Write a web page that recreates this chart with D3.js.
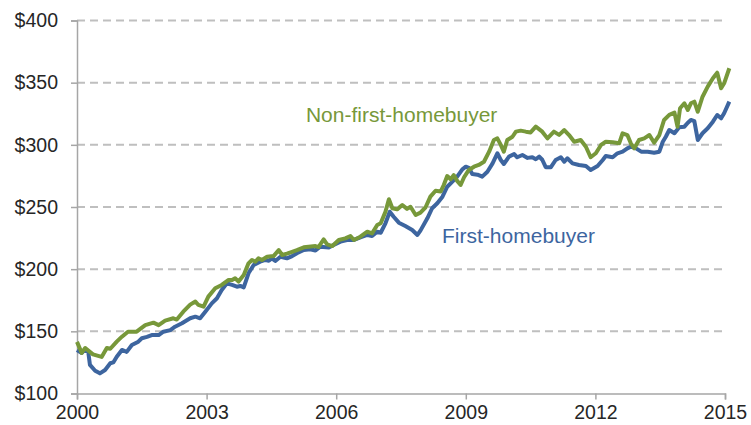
<!DOCTYPE html>
<html>
<head>
<meta charset="utf-8">
<script src="https://cdn.jsdelivr.net/npm/d3@7"></script>
<style>
  body { margin: 0; background: #fff; }
  svg { display: block; font-family: "Liberation Sans", Arial, sans-serif; }
  .tickText { font-size: 19.5px; fill: #262626; }
  .seriesLabel { font-size: 21px; }
</style>
</head>
<body>
<svg id="chart" width="751" height="425"></svg>
<script>
var svg = d3.select("#chart");
var margin = { left: 77, right: 26, top: 20.5, bottom: 31.5 };
var width = 751 - margin.left - margin.right;
var height = 425 - margin.top - margin.bottom;

// Axis ticks
var yearTicks = [2000, 2003, 2006, 2009, 2012, 2015];
var priceTicks = [100, 150, 200, 250, 300, 350, 400];

// Non-first-homebuyer: decimal year, price ($000)
var nonFirstYears = [2000.00, 2000.11, 2000.19, 2000.37, 2000.57, 2000.69, 2000.77, 2000.92, 2001.04, 2001.18,
  2001.38, 2001.58, 2001.77, 2001.89, 2002.04, 2002.23, 2002.31, 2002.46, 2002.62, 2002.74,
  2002.81, 2002.93, 2003.04, 2003.20, 2003.35, 2003.51, 2003.59, 2003.66, 2003.74, 2003.86,
  2003.97, 2004.05, 2004.13, 2004.20, 2004.28, 2004.40, 2004.55, 2004.67, 2004.75, 2004.86,
  2004.98, 2005.09, 2005.25, 2005.36, 2005.52, 2005.59, 2005.71, 2005.79, 2005.91, 2006.06,
  2006.21, 2006.33, 2006.41, 2006.56, 2006.72, 2006.83, 2006.95, 2007.03, 2007.14, 2007.22,
  2007.30, 2007.41, 2007.53, 2007.64, 2007.72, 2007.84, 2007.95, 2008.07, 2008.18, 2008.30,
  2008.42, 2008.49, 2008.57, 2008.65, 2008.72, 2008.80, 2008.88, 2008.96, 2009.07, 2009.19,
  2009.30, 2009.42, 2009.54, 2009.65, 2009.73, 2009.81, 2009.88, 2009.96, 2010.08, 2010.16,
  2010.27, 2010.39, 2010.50, 2010.62, 2010.77, 2010.89, 2011.04, 2011.16, 2011.28, 2011.39,
  2011.51, 2011.66, 2011.78, 2011.89, 2012.01, 2012.13, 2012.24, 2012.40, 2012.55, 2012.63,
  2012.74, 2012.82, 2012.90, 2013.01, 2013.13, 2013.25, 2013.36, 2013.48, 2013.59, 2013.71,
  2013.83, 2013.90, 2013.96, 2014.06, 2014.14, 2014.21, 2014.29, 2014.37, 2014.48, 2014.60,
  2014.72, 2014.82, 2014.91, 2014.98, 2015.10];
var nonFirstPrices = [141.5, 132.6, 136.6, 131.5, 129.4, 136.6, 136.0, 141.7, 145.7, 149.7,
  149.7, 155.0, 157.0, 155.0, 158.6, 160.5, 159.5, 165.8, 171.5, 174.0,
  171.2, 169.8, 177.9, 184.6, 187.3, 191.3, 191.3, 192.7, 190.0, 195.3,
  204.7, 207.4, 206.0, 208.7, 207.4, 210.0, 210.5, 215.4, 211.4, 212.5,
  214.0, 215.4, 217.6, 218.1, 218.6, 217.8, 224.0, 220.0, 218.6, 223.5,
  224.8, 226.7, 223.5, 226.1, 230.1, 228.8, 235.5, 236.9, 246.2, 256.2,
  249.0, 248.1, 251.6, 248.5, 250.2, 243.6, 245.5, 249.8, 258.3, 263.1,
  262.5, 267.7, 274.9, 272.3, 275.7, 271.0, 267.7, 273.9, 279.8, 282.4,
  283.8, 286.4, 294.5, 303.9, 305.2, 300.0, 294.5, 303.9, 306.5, 310.6,
  311.4, 310.6, 310.0, 314.6, 310.6, 305.2, 310.6, 308.0, 311.9, 307.9,
  302.5, 303.9, 298.5, 290.0, 293.2, 299.9, 302.5, 302.0, 301.2, 309.3,
  307.9, 301.2, 297.2, 303.9, 305.2, 307.9, 301.7, 307.9, 320.0, 324.1,
  325.9, 314.6, 329.4, 333.4, 328.0, 333.4, 334.7, 326.6, 338.7, 346.8,
  353.5, 358.0, 345.5, 349.5, 361.6];

// First-homebuyer: decimal year, price ($000)
var firstYears = [2000.00, 2000.11, 2000.19, 2000.26, 2000.30, 2000.42, 2000.53, 2000.65, 2000.77, 2000.84,
  2000.92, 2001.04, 2001.15, 2001.27, 2001.42, 2001.50, 2001.62, 2001.73, 2001.89, 2002.00,
  2002.16, 2002.27, 2002.43, 2002.62, 2002.74, 2002.85, 2002.97, 2003.12, 2003.24, 2003.35,
  2003.47, 2003.59, 2003.70, 2003.78, 2003.86, 2003.97, 2004.09, 2004.24, 2004.36, 2004.44,
  2004.51, 2004.59, 2004.71, 2004.86, 2004.98, 2005.09, 2005.25, 2005.40, 2005.52, 2005.63,
  2005.83, 2005.94, 2006.10, 2006.25, 2006.41, 2006.56, 2006.72, 2006.83, 2006.95, 2007.03,
  2007.14, 2007.24, 2007.33, 2007.45, 2007.60, 2007.76, 2007.88, 2007.95, 2008.11, 2008.22,
  2008.34, 2008.46, 2008.57, 2008.69, 2008.80, 2008.92, 2009.00, 2009.07, 2009.15, 2009.27,
  2009.38, 2009.50, 2009.62, 2009.73, 2009.81, 2009.88, 2010.00, 2010.12, 2010.19, 2010.31,
  2010.43, 2010.54, 2010.62, 2010.70, 2010.77, 2010.85, 2010.97, 2011.08, 2011.20, 2011.28,
  2011.35, 2011.47, 2011.62, 2011.78, 2011.89, 2012.05, 2012.17, 2012.24, 2012.40, 2012.51,
  2012.63, 2012.74, 2012.82, 2012.94, 2013.06, 2013.21, 2013.36, 2013.48, 2013.56, 2013.63,
  2013.71, 2013.83, 2013.94, 2014.06, 2014.14, 2014.21, 2014.29, 2014.37, 2014.48, 2014.60,
  2014.72, 2014.82, 2014.91, 2014.98, 2015.10];
var firstPrices = [135.0, 132.6, 135.5, 133.5, 123.0, 118.3, 116.2, 118.9, 124.3, 125.0,
  129.6, 135.0, 133.5, 139.0, 141.7, 144.4, 145.5, 147.0, 147.0, 149.7,
  151.0, 153.7, 156.5, 160.5, 161.8, 160.5, 165.8, 172.5, 176.6, 183.2,
  188.6, 187.3, 185.9, 186.5, 185.4, 196.7, 203.4, 206.0, 207.4, 206.8,
  208.7, 206.6, 210.0, 208.7, 210.5, 212.8, 215.4, 216.0, 215.0, 218.1,
  217.5, 219.4, 222.1, 223.5, 223.5, 225.6, 227.5, 226.7, 230.1, 229.3,
  236.9, 246.2, 242.2, 237.4, 234.7, 231.5, 227.5, 231.0, 240.9, 249.0,
  253.0, 258.3, 266.3, 270.4, 274.4, 280.3, 282.4, 281.5, 276.5, 276.0,
  274.4, 278.4, 285.1, 293.2, 287.8, 284.6, 290.5, 292.6, 290.0, 291.8,
  289.5, 290.0, 288.4, 290.5, 288.0, 282.0, 282.0, 287.8, 290.0, 286.4,
  289.2, 285.1, 283.8, 283.0, 279.8, 283.0, 287.8, 291.0, 290.0, 293.2,
  294.5, 297.2, 298.5, 297.2, 294.5, 294.5, 293.7, 294.5, 302.5, 306.5,
  311.9, 309.3, 314.1, 314.6, 317.8, 320.0, 319.0, 303.9, 309.3, 313.3,
  318.6, 324.0, 321.3, 325.4, 334.7];

// Colors
var green = d3.rgb(119, 152, 58);
var blue = d3.rgb(61, 101, 159);
var gridGray = d3.color("#bfbfbf");
var axisGray = d3.color("#a6a6a6");

// Scales
var xScale = d3.scaleLinear().domain([2000, 2015]).range([0, width]);
var yScale = d3.scaleLinear().domain([100, 400]).range([height, 0]);

var g = svg.append("g")
           .attr("transform", "translate(" + margin.left + "," + margin.top + ")");

// Gridlines
g.selectAll(".gridLine")
 .data(priceTicks.filter(function(d) { return d != 100; }))
 .enter()
 .append("line")
 .attr("class", "gridLine")
 .attr("x1", 0)
 .attr("x2", width)
 .attr("y1", function(d) { return yScale(d); })
 .attr("y2", function(d) { return yScale(d); })
 .style("stroke", gridGray)
 .style("stroke-width", 2)
 .style("stroke-dasharray", "8,5");

// Y axis
var yAxis = g.append("g")
             .call(d3.axisLeft(yScale).tickValues(priceTicks).tickSize(6).tickPadding(13)
                     .tickFormat(function(d) { return "$" + d; }));
// X axis
var xAxis = g.append("g")
             .attr("transform", "translate(0," + height + ")")
             .call(d3.axisBottom(xScale).tickValues(yearTicks).tickSize(6).tickPadding(6)
                     .tickFormat(d3.format("d")));

[yAxis, xAxis].forEach(function(ax) {
  ax.attr("font-size", null).attr("font-family", null);
  ax.select(".domain").style("stroke", axisGray).style("stroke-width", 1.5);
  ax.selectAll(".tick line").style("stroke", axisGray).style("stroke-width", 1.5);
  ax.selectAll(".tick text").attr("class", "tickText");
});

// Lines
var line = d3.line()
             .x(function(d) { return xScale(d[0]); })
             .y(function(d) { return yScale(d[1]); });

var nonFirst = d3.zip(nonFirstYears, nonFirstPrices);
var first = d3.zip(firstYears, firstPrices);

g.append("path")
 .datum(first)
 .attr("d", line)
 .style("fill", "none")
 .style("stroke", blue)
 .style("stroke-width", 4)
 .style("stroke-linejoin", "round");

g.append("path")
 .datum(nonFirst)
 .attr("d", line)
 .style("fill", "none")
 .style("stroke", green)
 .style("stroke-width", 4)
 .style("stroke-linejoin", "round");

// Series labels
g.append("text")
 .attr("class", "seriesLabel")
 .attr("x", xScale(2005.3))
 .attr("y", yScale(318.4))
 .text("Non-first-homebuyer")
 .style("fill", green);

g.append("text")
 .attr("class", "seriesLabel")
 .attr("x", xScale(2008.45))
 .attr("y", yScale(220.8))
 .text("First-homebuyer")
 .style("fill", blue);
</script>
</body>
</html>
